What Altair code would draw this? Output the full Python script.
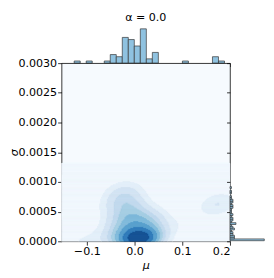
import numpy as np
import pandas as pd
import altair as alt

TITLE = "α = 0.0"
X_LABEL = "μ"
Y_LABEL = "σ"
X_TICKS = [-0.1, 0.0, 0.1, 0.2]
Y_TICKS = [0.0, 0.0005, 0.001, 0.0015, 0.002, 0.0025, 0.003]
X_DOMAIN = [-0.153, 0.2]
Y_DOMAIN = [0.0, 0.003]

MU = [-0.1265, -0.095, -0.058,
      -0.048, -0.045, -0.042, -0.040,
      -0.036, -0.031, -0.028,
      -0.025, -0.024, -0.023, -0.022, -0.021, -0.020, -0.019, -0.018, -0.017, -0.016, -0.015, -0.014,
      -0.012, -0.011, -0.010, -0.009, -0.008, -0.007, -0.006, -0.005, -0.004, -0.003, -0.002,
      0.000, 0.002, 0.003, 0.005, 0.006, 0.008, 0.010, 0.011,
      0.013, 0.0135, 0.014, 0.015, 0.016, 0.017, 0.018, 0.019, 0.020, 0.021, 0.0215, 0.022, 0.023, 0.0235, 0.024, 0.0245,
      0.028, 0.033,
      0.039, 0.042, 0.045, 0.047, 0.049,
      0.105,
      0.166, 0.170, 0.174,
      0.1885]
SIGMA = [0.00001, 0.00002, 0.00004,
         0.00060, 0.00030, 0.00012, 0.00082,
         0.00045, 0.00070, 0.00020,
         0.00065, 0.00002, 0.00092, 0.00035, 0.00076, 0.00010, 0.00054, 0.00001, 0.00042, 0.00028, 0.00004, 0.00018,
         0.00003, 0.00072, 0.00014, 0.00085, 0.00002, 0.00048, 0.00025, 0.00001, 0.00058, 0.00006, 0.00036,
         0.00002, 0.00062, 0.00003, 0.00022, 0.00001, 0.00040, 0.00002, 0.00009,
         0.00001, 0.00050, 0.00002, 0.00016, 0.00003, 0.00031, 0.00001, 0.00007, 0.00002, 0.00038, 0.00004, 0.00011, 0.00002, 0.00024, 0.00001, 0.00003,
         0.00005, 0.00030,
         0.00002, 0.00045, 0.00008, 0.00033, 0.00020,
         0.00030,
         0.00060, 0.00066, 0.00056,
         0.00070]
MU_BINS = 25
SIGMA_BINS = 30
N_LEVELS = 10
BLUES = ["#f7fbff", "#deebf7", "#c6dbef", "#9ecae1", "#6baed6",
         "#4292c6", "#2171b5", "#08519c", "#08306b"]

FONT = "DejaVu Sans"
FS = 11.4
MAIN_W, MAIN_H = 173, 183
MARG = 37

mu = np.array(MU)
sg = np.array(SIGMA)
pts = np.vstack([mu, sg])
n = pts.shape[1]
factor = n ** (-1.0 / 6.0)
kcov = np.cov(pts) * factor ** 2
inv = np.linalg.inv(kcov)
norm = 1.0 / (2 * np.pi * np.sqrt(np.linalg.det(kcov))) / n


def kde(xx, yy):
    dx = xx[..., None] - mu
    dy = yy[..., None] - sg
    q = inv[0, 0] * dx * dx + 2 * inv[0, 1] * dx * dy + inv[1, 1] * dy * dy
    return np.exp(-0.5 * q).sum(-1) * norm


bw = np.sqrt(np.diag(kcov))
gx = np.linspace(mu.min() - 3 * bw[0], mu.max() + 3 * bw[0], 200)
gy = np.linspace(sg.min() - 3 * bw[1], sg.max() + 3 * bw[1], 200)
GX, GY = np.meshgrid(gx, gy)
dens = kde(GX, GY)
iso = np.linspace(0, 1, N_LEVELS)
vals = np.sort(dens.ravel())[::-1]
cum = np.cumsum(vals) / vals.sum()
levels = np.take(vals, np.searchsorted(cum, 1 - iso), mode="clip")
mids = 0.5 * (levels[:-1] + levels[1:])
cvals = (mids - levels[0]) / (levels[-1] - levels[0])

# display grid (about one pixel per cell)
xe = np.linspace(X_DOMAIN[0], X_DOMAIN[1], MAIN_W + 1)
xe = np.clip(xe, gx[0], gx[-1])
ch = (Y_DOMAIN[1] - Y_DOMAIN[0]) / MAIN_H
nrows = int(np.ceil(gy[-1] / ch))
ye = np.minimum(np.arange(nrows + 1) * ch, gy[-1])
xc = 0.5 * (xe[:-1] + xe[1:])
yc = 0.5 * (ye[:-1] + ye[1:])
XC, YC = np.meshgrid(xc, yc)
D = kde(XC, YC)
band = np.clip(np.searchsorted(levels, D, side="right") - 1, 0, N_LEVELS - 2)

rows = []
for r in range(nrows):
    start = 0
    for c in range(1, MAIN_W + 1):
        if c == MAIN_W or band[r, c] != band[r, start]:
            rows.append({"x0": xe[start], "x1": xe[c], "y0": ye[r], "y1": ye[r + 1],
                         "c": float(cvals[band[r, start]])})
            start = c
kde_df = pd.DataFrame(rows)

mc, me = np.histogram(mu, bins=MU_BINS)
top_df = pd.DataFrame({"x0": me[:-1], "x1": me[1:], "n": mc, "z": 0})
top_df = top_df[top_df.n > 0]
sc, se = np.histogram(sg, bins=SIGMA_BINS)
right_df = pd.DataFrame({"y0": se[:-1], "y1": se[1:], "n": sc, "z": 0})
right_df = right_df[right_df.n > 0]

BAR_FILL = "#8fc2e0"
BAR_EDGE = "#333333"

xscale = alt.Scale(domain=X_DOMAIN, nice=False, zero=False)
yscale = alt.Scale(domain=Y_DOMAIN, nice=False, zero=False)
cscale = alt.Scale(domain=list(np.linspace(0, 1, len(BLUES))), range=BLUES, interpolate="rgb")

main = alt.Chart(kde_df).mark_rect(strokeWidth=0.5).encode(
    x=alt.X("x0:Q", scale=xscale,
            axis=alt.Axis(values=X_TICKS, format=".1f", title=X_LABEL, domain=False,
                          titleFontStyle="italic", titlePadding=3)),
    x2="x1:Q",
    y=alt.Y("y0:Q", scale=yscale,
            axis=alt.Axis(values=Y_TICKS, format=".4f", title=Y_LABEL, domain=False,
                          titleFontStyle="italic", titleX=-48.3, titleY=MAIN_H / 2,
                          titleBaseline="middle", titleAlign="center", titleAngle=270)),
    y2="y1:Q",
    color=alt.Color("c:Q", scale=cscale, legend=None),
    stroke=alt.Stroke("c:Q", scale=cscale, legend=None),
).properties(width=MAIN_W, height=MAIN_H,
             view=alt.ViewBackground(stroke="black", strokeWidth=0.8, fill="#f6fafe"))

top = alt.Chart(top_df).mark_rect(fill=BAR_FILL, stroke=BAR_EDGE, strokeWidth=0.7).encode(
    x=alt.X("x0:Q", scale=xscale,
            axis=alt.Axis(values=X_TICKS, labels=False, title=None, domain=False, tickSize=3.5)),
    x2="x1:Q",
    y=alt.Y("n:Q", scale=alt.Scale(domain=[0, mc.max() * 1.05], nice=False), axis=None),
    y2="z:Q",
).properties(width=MAIN_W, height=MARG,
             title=alt.TitleParams(TITLE, font=FONT, fontSize=FS, fontWeight="normal",
                                   anchor="middle", offset=4, color="black"),
             view=alt.ViewBackground(stroke=None))

right = alt.Chart(right_df).mark_rect(fill=BAR_FILL, stroke=BAR_EDGE, strokeWidth=0.7).encode(
    y=alt.Y("y0:Q", scale=yscale,
            axis=alt.Axis(values=Y_TICKS, labels=False, title=None, domain=False, tickSize=3.5)),
    y2="y1:Q",
    x=alt.X("n:Q", scale=alt.Scale(domain=[0, sc.max() * 1.05], nice=False), axis=None),
    x2="z:Q",
).properties(width=MARG, height=MAIN_H, view=alt.ViewBackground(stroke=None))

row2 = alt.hconcat(main, right, spacing=0, bounds="flush").resolve_scale(x="independent", y="independent")
chart = alt.vconcat(top, row2, spacing=0, bounds="flush").resolve_scale(
    x="independent", y="independent"
).properties(padding=0).configure_axis(
    labelFont=FONT, labelFontSize=FS, titleFont=FONT, titleFontSize=FS,
    labelColor="black", titleColor="black", tickColor="black", tickWidth=0.8,
    tickSize=4, labelPadding=1, grid=False, titleFontWeight="normal",
)

chart.save("out.html", embed_options={"renderer": "svg", "actions": False})
